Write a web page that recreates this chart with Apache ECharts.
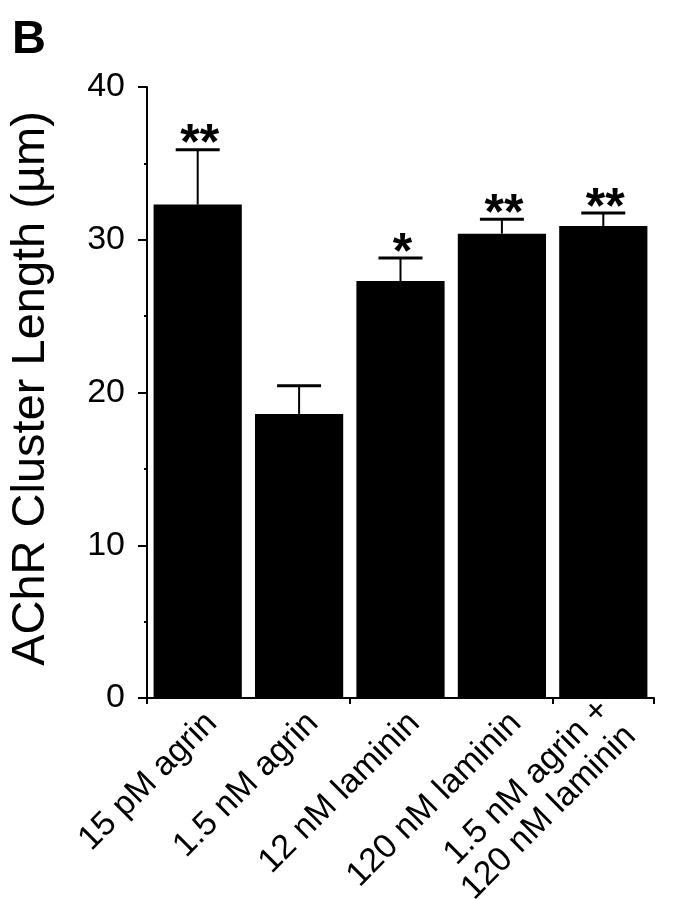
<!DOCTYPE html>
<html>
<head>
<meta charset="utf-8">
<script src="https://cdn.jsdelivr.net/npm/echarts@6/dist/echarts.min.js"></script>
<style>
html,body{margin:0;padding:0;background:#fff;}
#main{width:684px;height:899px;}
</style>
</head>
<body>
<div id="main"></div>
<script>
const categories = ['15 pM agrin', '1.5 nM agrin', '12 nM laminin', '120 nM laminin', '1.5 nM agrin +\n120 nM laminin'];
const means = [32.3, 18.6, 27.3, 30.4, 30.9];
const errors = [3.6, 1.85, 1.5, 0.95, 0.85];
const significance = ['**', '', '*', '**', '**'];
const yTicks = [0, 10, 20, 30, 40];

const FONT = '"Liberation Sans", Arial, Helvetica, sans-serif';
const chart = echarts.init(document.getElementById('main'), null, {renderer: 'canvas'});

const errData = means.map((m, i) => [i, m, m + errors[i]]);
const labelData = categories.map((c, i) => [i, 0]);

const option = {
  backgroundColor: '#fff',
  animation: false,
  grid: {left: 142, right: 30, top: 87, bottom: 201},
  xAxis: {
    type: 'category',
    data: categories,
    axisLine: {show: true, lineStyle: {color: '#000', width: 2}},
    axisTick: {show: true, length: 6, lineStyle: {color: '#000', width: 2}},
    axisLabel: {show: false}
  },
  yAxis: {
    type: 'value', min: 0, max: 40, interval: 10,
    name: 'AChR Cluster Length (\u00b5m)',
    nameLocation: 'middle', nameGap: 92, nameRotate: 90,
    nameTextStyle: {fontFamily: FONT, fontSize: 47, color: '#000', padding: [0, 0, 0, 8]},
    axisLine: {show: true, lineStyle: {color: '#000', width: 2}},
    axisTick: {show: true, length: 9, lineStyle: {color: '#000', width: 2}},
    minorTick: {show: true, splitNumber: 2, length: 3, lineStyle: {color: '#000', width: 2}},
    splitLine: {show: false},
    axisLabel: {
      color: '#000', fontFamily: FONT, fontSize: 34, margin: 22,
      formatter: v => (yTicks.indexOf(v) >= 0 ? String(v) : '')
    }
  },
  series: [{
    type: 'bar',
    data: means,
    barCategoryGap: '13%',
    itemStyle: {color: '#000'}
  }, {
    type: 'custom',
    data: errData,
    z: 10,
    renderItem: function (params, api) {
      const x = api.value(0);
      const p0 = api.coord([x, api.value(1)]);
      const p1 = api.coord([x, api.value(2)]);
      const hw = 22;
      const sig = significance[params.dataIndex];
      const children = [
        {type: 'line', shape: {x1: p0[0], y1: p0[1], x2: p1[0], y2: p1[1]}, style: {stroke: '#000', lineWidth: 2}},
        {type: 'line', shape: {x1: p1[0] - hw, y1: p1[1], x2: p1[0] + hw, y2: p1[1]}, style: {stroke: '#000', lineWidth: 3}}
      ];
      if (sig) {
        children.push({
          type: 'text',
          style: {
            text: sig, x: p1[0] + 2, y: p1[1] - 4, align: 'center', verticalAlign: 'middle',
            font: 'bold 50px ' + FONT, fill: '#000', letterSpacing: 5
          }
        });
      }
      return {type: 'group', children: children};
    }
  }, {
    type: 'custom',
    data: labelData,
    encode: {x: 0, y: 1},
    clip: false,
    silent: true,
    renderItem: function (params, api) {
      const p = api.coord([api.value(0), 0]);
      return {
        type: 'text',
        x: p[0] + 14,
        y: p[1] + 20,
        rotation: Math.PI / 4,
        style: {
          text: categories[params.dataIndex],
          align: 'right', verticalAlign: 'middle',
          font: '34px ' + FONT, lineHeight: 37, fill: '#000'
        }
      };
    }
  }]
};
chart.setOption(option);

// extend x axis line slightly beyond the last category, as in the original
const endPt = chart.convertToPixel({gridIndex: 0}, [categories.length - 0.5, 0]);
chart.setOption({
  graphic: [{
    type: 'text', left: 12, top: 17,
    style: {text: 'B', font: 'bold 47px ' + FONT, fill: '#000'}
  }, {
    type: 'line',
    shape: {x1: endPt[0], y1: endPt[1], x2: endPt[0] + 24, y2: endPt[1]},
    style: {stroke: '#000', lineWidth: 2}
  }]
});
</script>
</body>
</html>
